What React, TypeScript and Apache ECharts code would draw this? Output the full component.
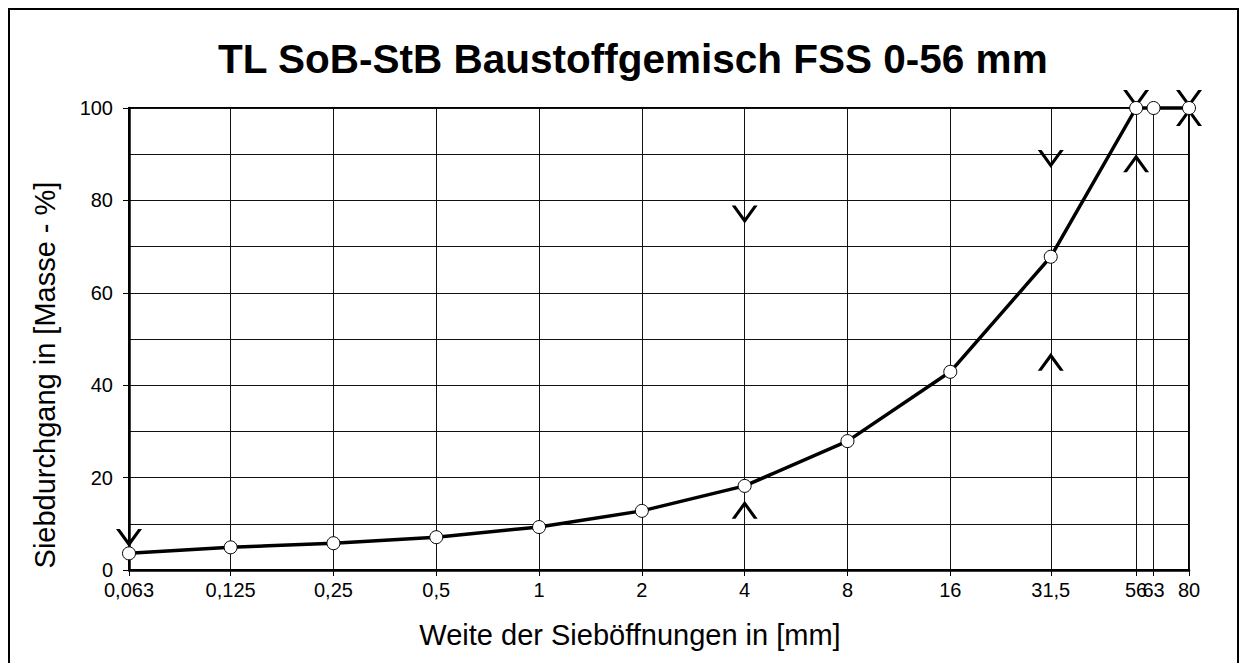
import React, { useEffect, useRef } from 'react';
import * as echarts from 'echarts';

const sieveSizes = [0.063, 0.125, 0.25, 0.5, 1, 2, 4, 8, 16, 31.5, 56, 63, 80];
const sieveLabels = ['0,063', '0,125', '0,25', '0,5', '1', '2', '4', '8', '16', '31,5', '56', '63', '80'];
const passing = [3.6, 4.9, 5.8, 7.1, 9.3, 12.8, 18.2, 27.9, 42.9, 67.8, 100, 100, 100];

const upperSieves = [0.063, 4, 31.5, 56, 80];
const upperLimits = [5, 75, 87, 100, 100];
const lowerSieves = [4, 31.5, 56, 80];
const lowerLimits = [15, 47, 90, 100];

const titleText = 'TL SoB-StB Baustoffgemisch FSS 0-56 mm';
const xTitle = 'Weite der Sieböffnungen in [mm]';
const yTitle = 'Siebdurchgang in [Masse - %]';

const V_PATH = 'path://M0,0 L3.8,0 L13,12.5 L22.2,0 L26,0 L13,17.7 L13,17.7 Z';
const A_PATH = 'path://M0,17.7 L3.8,17.7 L13,5.2 L22.2,17.7 L26,17.7 L13,0 L13,0 Z';

const FONT = 'Liberation Sans, Arial, Helvetica, sans-serif';

function labelFor(v: number): string {
  let best = 0;
  let bestD = Infinity;
  sieveSizes.forEach((s, i) => {
    const d = Math.abs(Math.log(v) - Math.log(s));
    if (d < bestD) {
      bestD = d;
      best = i;
    }
  });
  return sieveLabels[best];
}

export default function App() {
  const ref = useRef<HTMLDivElement>(null);
  useEffect(() => {
    if (!ref.current) return;
    const chart = echarts.init(ref.current, undefined, { renderer: 'svg' });
    const gridLine = { color: '#111', width: 1 };
    chart.setOption({
      animation: false,
      backgroundColor: '#fff',
      textStyle: { fontFamily: FONT, color: '#000' },
      title: {
        text: titleText,
        left: 205,
        top: 25,
        textStyle: { fontSize: 40.5, fontWeight: 'bold', color: '#000', fontFamily: FONT },
      },
      graphic: [
        {
          type: 'rect',
          silent: true,
          shape: { x: 1, y: 1, width: 1229, height: 720 },
          style: { fill: 'none', stroke: '#000', lineWidth: 2 },
        },
      ],
      grid: {
        left: 121,
        top: 100,
        right: 50,
        bottom: 93,
        show: true,
        borderColor: '#000',
        borderWidth: 2,
        backgroundColor: 'transparent',
      },
      xAxis: {
        type: 'log',
        logBase: 2,
        min: 0.063,
        max: 80,
        name: xTitle,
        nameLocation: 'middle',
        nameGap: 50,
        nameTextStyle: { fontSize: 29, color: '#000', fontFamily: FONT, padding: [0, 58, 0, 0] },
        axisLine: { show: true, lineStyle: { color: '#000', width: 2.5 } },
        axisTick: { show: true, inside: false, length: 6, customValues: sieveSizes, lineStyle: { color: '#000', width: 1 } },
        axisLabel: {
          customValues: sieveSizes,
          formatter: (v: number) => labelFor(v),
          fontSize: 20,
          color: '#000',
          margin: 10,
          fontFamily: FONT,
        },
        splitLine: { show: true, lineStyle: gridLine },
        minorSplitLine: { show: false },
      },
      yAxis: {
        type: 'value',
        min: 0,
        max: 100,
        interval: 20,
        name: yTitle,
        nameLocation: 'middle',
        nameGap: 70,
        nameRotate: 90,
        nameTextStyle: { fontSize: 29, color: '#000', fontFamily: FONT, padding: [0, 72, 0, 0] },
        axisLine: { show: true, lineStyle: { color: '#000', width: 2.5 } },
        axisTick: { show: true, inside: false, length: 6, lineStyle: { color: '#000', width: 1 } },
        axisLabel: { fontSize: 20, color: '#000', margin: 16, fontFamily: FONT },
        splitLine: { show: true, lineStyle: gridLine },
        minorTick: { show: false, splitNumber: 2 },
        minorSplitLine: { show: true, lineStyle: gridLine },
      },
      series: [
        {
          name: 'Obergrenze',
          type: 'scatter',
          clip: false,
          data: upperSieves.map((s, i) => [s, upperLimits[i]]),
          symbol: V_PATH,
          symbolSize: [26, 18],
          symbolKeepAspect: false,
          symbolOffset: [0, '-50%'],
          itemStyle: { color: '#000', opacity: 1 },
          z: 3,
        },
        {
          name: 'Untergrenze',
          type: 'scatter',
          clip: false,
          data: lowerSieves.map((s, i) => [s, lowerLimits[i]]),
          symbol: A_PATH,
          symbolSize: [26, 18],
          symbolKeepAspect: false,
          symbolOffset: [0, '50%'],
          itemStyle: { color: '#000', opacity: 1 },
          z: 3,
        },
        {
          name: 'Sieblinie',
          type: 'line',
          clip: false,
          data: sieveSizes.map((s, i) => [s, passing[i]]),
          symbol: 'circle',
          symbolSize: 13,
          showSymbol: true,
          lineStyle: { color: '#000', width: 3.5 },
          itemStyle: { color: '#fff', borderColor: '#000', borderWidth: 1 },
          z: 5,
        },
      ],
    });
    return () => chart.dispose();
  }, []);
  return (
    <div
      ref={ref}
      style={{ position: 'fixed', left: 8, top: 8, width: 1231, height: 655 }}
    />
  );
}
